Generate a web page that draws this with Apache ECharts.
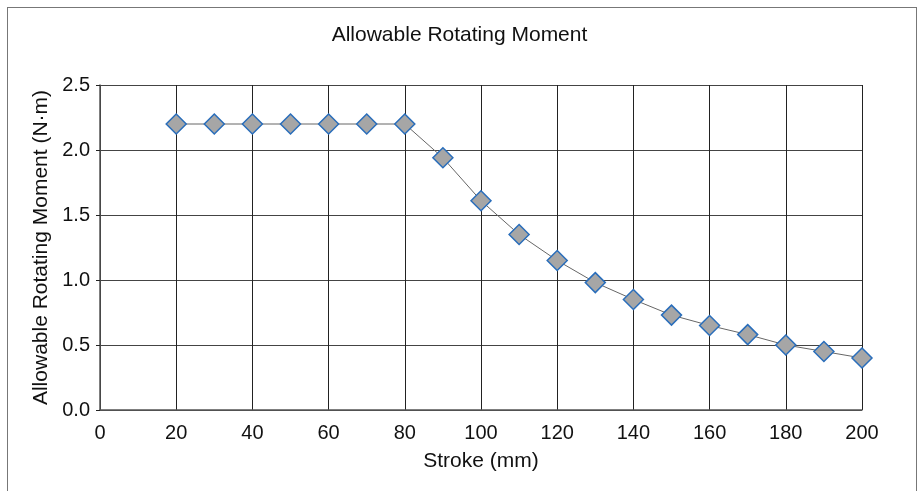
<!DOCTYPE html>
<html><head><meta charset="utf-8">
<script src="https://cdn.jsdelivr.net/npm/echarts@6/dist/echarts.min.js"></script>
<style>html,body{margin:0;padding:0;background:#fff}#c{width:919px;height:491px}
#frame{position:absolute;left:7px;top:7px;width:910px;height:500px;border:1px solid #777;box-sizing:border-box;pointer-events:none}</style>
</head><body><div id="c"></div><div id="frame"></div>
<script>
var strokes = [20,30,40,50,60,70,80,90,100,110,120,130,140,150,160,170,180,190,200];
var moments = [2.2,2.2,2.2,2.2,2.2,2.2,2.2,1.94,1.61,1.35,1.15,0.98,0.85,0.73,0.65,0.58,0.50,0.45,0.40];
var title = 'Allowable Rotating Moment';
var xName = 'Stroke (mm)';
var yName = 'Allowable Rotating Moment (N·m)';
var ff = '"Liberation Sans", Arial, sans-serif';
var chart = echarts.init(document.getElementById('c'));
chart.setOption({
  animation:false,
  title:{text:title,left:'center',top:20,textStyle:{fontFamily:ff,fontSize:21,fontWeight:'normal',color:'#111'}},
  grid:{left:100,right:57,top:85,bottom:81},
  xAxis:{type:'value',min:0,max:200,interval:20,name:xName,nameLocation:'middle',nameGap:41,
    nameTextStyle:{fontFamily:ff,fontSize:21,color:'#111'},
    axisLine:{lineStyle:{color:'#555',width:1.5}},axisTick:{show:false},
    axisLabel:{fontFamily:ff,fontSize:20,color:'#111',margin:13},
    splitLine:{show:true,lineStyle:{color:'#222',width:1}}},
  yAxis:{type:'value',min:0,max:2.5,interval:0.5,name:yName,nameLocation:'middle',nameGap:47,
    nameTextStyle:{fontFamily:ff,fontSize:21,color:'#111'},
    axisLine:{show:true,lineStyle:{color:'#555',width:1.5}},axisTick:{show:true,length:4,lineStyle:{color:'#222'}},
    axisLabel:{fontFamily:ff,fontSize:20,color:'#111',margin:10,formatter:function(v){return v.toFixed(1);}},
    splitLine:{show:true,lineStyle:{color:'#444',width:1}}},
  series:[{type:'line',data:strokes.map(function(s,i){return [s,moments[i]];}),
    symbol:'diamond',symbolSize:20,
    lineStyle:{color:'#666',width:1},
    itemStyle:{color:'#a6a6a6',borderColor:'#2a6ebb',borderWidth:1.5}}]
});
</script></body></html>
